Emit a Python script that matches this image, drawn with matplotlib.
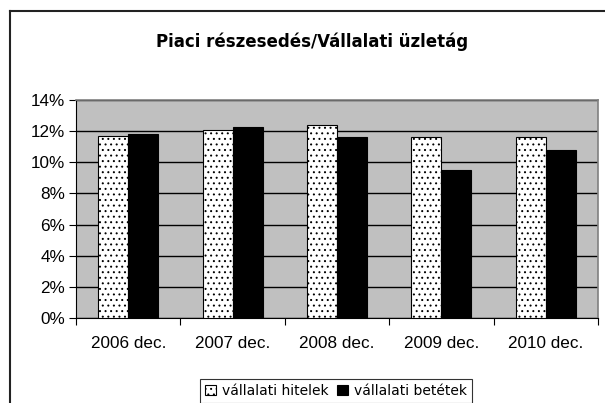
import matplotlib
matplotlib.use("Agg")
import matplotlib.pyplot as plt
from matplotlib.lines import Line2D
from matplotlib.ticker import FuncFormatter, FixedLocator
import numpy as np

categories = ["2006 dec.", "2007 dec.", "2008 dec.", "2009 dec.", "2010 dec."]
hitelek = [11.7, 12.1, 12.4, 11.65, 11.65]
betetek = [11.8, 12.25, 11.65, 9.5, 10.8]
series_names = ["vállalati hitelek", "vállalati betétek"]
title = "Piaci részesedés/Vállalati üzletág"

plt.rcParams['hatch.color'] = '#6a6a6a'
plt.rcParams['hatch.linewidth'] = 0.7

W, H = 605, 403
fig = plt.figure(figsize=(W/100, H/100), dpi=100)
ax = fig.add_axes([76/W, 1-318/H, (598-76)/W, (318-100)/H])
ax.set_facecolor('#C0C0C0')

x = np.arange(len(categories))
bw = 0.287
ax.bar(x - bw/2, hitelek, bw, facecolor='white', edgecolor='black', hatch='...', linewidth=0.8, zorder=3, label=series_names[0])
ax.bar(x + bw/2, betetek, bw, facecolor='black', edgecolor='black', linewidth=0.8, zorder=3, label=series_names[1])

ax.set_xlim(-0.5, len(categories)-0.5)
ax.set_ylim(0, 14)
ax.set_yticks(np.arange(0, 15, 2))
ax.yaxis.set_major_formatter(FuncFormatter(lambda v, p: f"{int(v)}%"))
ax.grid(axis='y', color='black', linewidth=1.0, zorder=1)
ax.set_axisbelow(True)

ax.set_xticks(x)
ax.set_xticklabels(categories, fontfamily='Liberation Sans', fontsize=12.3)
ax.xaxis.set_minor_locator(FixedLocator(np.arange(-0.5, len(categories), 1)))
ax.tick_params(axis='x', which='major', length=0, pad=13)
ax.tick_params(axis='x', which='minor', length=5, direction='out', width=0.8)
ax.tick_params(axis='y', length=5, direction='out', width=0.8, pad=3)
for lab in ax.get_yticklabels():
    lab.set_fontfamily('Liberation Sans')
    lab.set_fontsize(12.3)

for s in ['top', 'right']:
    ax.spines[s].set_color('#808080')
    ax.spines[s].set_linewidth(1.2)
for s in ['left', 'bottom']:
    ax.spines[s].set_color('black')
    ax.spines[s].set_linewidth(0.8)

fig.text(312/W, 1-42/H, title, ha='center', va='center', fontsize=12, fontweight='bold', fontfamily='DejaVu Sans')

leg = fig.legend(loc='upper center', bbox_to_anchor=(336/W, 1-372/H), ncol=2, frameon=True,
                 fancybox=False, edgecolor='black', handlelength=0.8, handleheight=0.8,
                 handletextpad=0.4, columnspacing=0.6, borderpad=0.35, prop={'family': 'DejaVu Sans', 'size': 10})
leg.get_frame().set_linewidth(0.8)

# outer chart border (left and top)
fig.add_artist(Line2D([10/W, 10/W], [1-11/H, 0], transform=fig.transFigure, color='#222222', linewidth=1.5))
fig.add_artist(Line2D([10/W, 1], [1-11/H, 1-11/H], transform=fig.transFigure, color='#222222', linewidth=1.5))

fig.savefig("out.png", dpi=100, facecolor='white')
